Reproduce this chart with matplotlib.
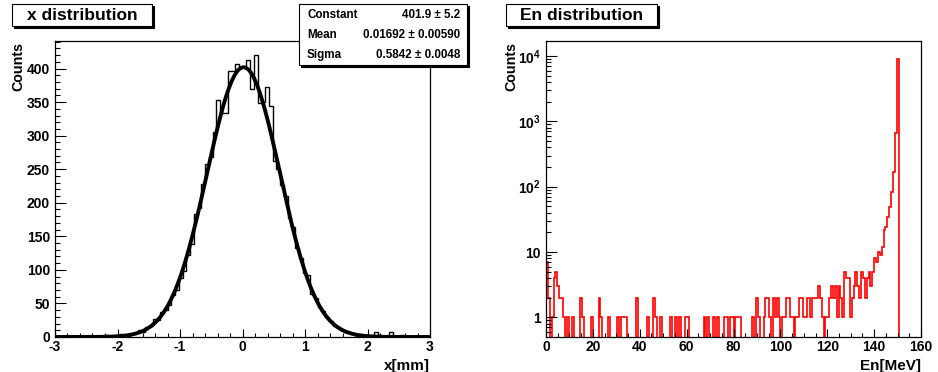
import numpy as np
import matplotlib
matplotlib.use("Agg")
import matplotlib.pyplot as plt
from matplotlib.patches import Rectangle
from matplotlib.ticker import MultipleLocator, FixedLocator, FixedFormatter, LogLocator, NullFormatter

plt.rcParams['font.family'] = ['Liberation Sans', 'DejaVu Sans']
plt.rcParams['font.weight'] = 'bold'
plt.rcParams['axes.unicode_minus'] = False
plt.rcParams['mathtext.fontset'] = 'custom'
plt.rcParams['mathtext.rm'] = 'Liberation Sans:bold'
plt.rcParams['mathtext.bf'] = 'Liberation Sans:bold'

# x distribution: 100 bins from -3 to 3 (counts)
x_lo, x_hi, x_nbins = -3.0, 3.0, 100
x_counts = [0, 0, 0, 0, 0, 1, 0, 1, 1, 0,
            0, 1, 2, 3, 1, 1, 2, 4, 3, 2,
            4, 6, 10, 8, 15, 17, 27, 25, 37, 40,
            48, 63, 70, 88, 98, 122, 138, 183, 192, 228,
            258, 268, 306, 353, 333, 333, 396, 396, 406, 402,
            403, 413, 370, 420, 348, 350, 372, 344, 262, 250,
            226, 210, 178, 164, 133, 118, 96, 92, 64, 58,
            45, 38, 30, 24, 17, 15, 10, 8, 7, 6,
            3, 2, 3, 1, 2, 7, 3, 1, 2, 8,
            2, 1, 3, 2, 1, 1, 2, 0, 1, 1]

# gaus fit results shown in the stats box
fit_const, fit_const_err = 401.9, 5.2
fit_mean, fit_mean_err = 0.01692, 0.00590
fit_sigma, fit_sigma_err = 0.5842, 0.0048

# En distribution: 200 bins of 0.8 MeV from 0 to 160, only non-empty bins listed
en_lo, en_hi, en_nbins = 0.0, 160.0, 200
en_bin = [0, 1, 3, 4, 5, 6, 7, 8, 9, 11, 14, 18, 19, 24, 28, 29, 33, 38, 40, 41,
          42, 48, 54, 57, 58, 61, 66, 69, 71, 74, 75, 84, 86, 89, 91, 95, 96, 98, 99, 101,
          102, 103, 110, 112, 113, 116, 117, 118, 119, 121, 122, 123, 124, 126, 127, 128, 129, 130, 131, 133,
          134, 135, 136, 137, 138, 139, 140, 141, 142, 143, 144, 145, 146, 147, 149, 150, 151, 152, 153, 154,
          155, 156, 157, 158, 159, 160, 161, 162, 163, 164, 165, 166, 167, 168, 169, 170, 171, 172, 173, 174,
          175, 176, 177, 178, 179, 180, 181, 182, 183, 184, 185, 186, 187]
en_count = [7, 2, 1, 4, 5, 3, 2, 2, 1, 1, 1, 2, 1, 1, 2, 1, 1, 1, 1, 1,
            1, 2, 1, 2, 1, 1, 1, 1, 1, 1, 1, 1, 1, 1, 1, 1, 1, 1, 1, 1,
            1, 1, 1, 2, 1, 1, 2, 2, 1, 2, 1, 2, 1, 1, 1, 2, 2, 1, 1, 1,
            1, 2, 2, 1, 1, 2, 2, 1, 2, 2, 2, 3, 2, 1, 1, 1, 2, 3, 2, 3,
            1, 3, 2, 1, 5, 4, 4, 1, 2, 3, 5, 3, 2, 5, 4, 2, 4, 5, 3, 5,
            8, 7, 10, 9, 12, 22, 24, 34, 49, 83, 168, 665, 8900]

W, H = 938, 372


def fig_rect(x0, y0, x1, y1):
    return (x0 / W, 1 - y1 / H, (x1 - x0) / W, (y1 - y0) / H)


def root_box(fig, x0, y0, x1, y1):
    # white pave with a small dark shadow, ROOT style
    l, b, w, h = fig_rect(x0 + 2, y0 + 2, x1 + 2, y1 + 2)
    fig.patches.append(Rectangle((l, b), w, h, transform=fig.transFigure,
                                 facecolor='black', edgecolor='black', lw=0.8, zorder=5))
    l, b, w, h = fig_rect(x0, y0, x1, y1)
    fig.patches.append(Rectangle((l, b), w, h, transform=fig.transFigure,
                                 facecolor='white', edgecolor='black', lw=0.8, zorder=6))


fig = plt.figure(figsize=(W / 100, H / 100), dpi=100)
ax1 = fig.add_axes(fig_rect(55, 41, 430, 337))
ax2 = fig.add_axes(fig_rect(546, 41, 921, 337))

# --- left: x distribution ---
x_edges = np.linspace(x_lo, x_hi, x_nbins + 1)
ax1.stairs(x_counts, x_edges, color='black', lw=1.0)
xs = np.linspace(x_lo, x_hi, 600)
ax1.plot(xs, fit_const * np.exp(-0.5 * ((xs - fit_mean) / fit_sigma) ** 2), color='black', lw=2.8)
ax1.set_xlim(x_lo, x_hi)
ax1.set_ylim(0, 441)
ax1.xaxis.set_major_locator(MultipleLocator(1))
ax1.xaxis.set_minor_locator(MultipleLocator(0.2))
ax1.yaxis.set_major_locator(MultipleLocator(50))
ax1.yaxis.set_minor_locator(MultipleLocator(10))

# --- right: En distribution ---
en_edges = np.linspace(en_lo, en_hi, en_nbins + 1)
en_full = np.zeros(en_nbins)
en_full[en_bin] = en_count
ax2.set_yscale('log')
ax2.stairs(en_full, en_edges, color='red', lw=1.2, baseline=None)
ax2.set_xlim(en_lo, en_hi)
ax2.set_ylim(0.5, 17000)
ax2.xaxis.set_major_locator(MultipleLocator(20))
ax2.xaxis.set_minor_locator(MultipleLocator(5))
ax2.yaxis.set_major_locator(FixedLocator([1, 10, 100, 1000, 10000]))
ax2.yaxis.set_major_formatter(FixedFormatter(['1', '10', r'$10^{2}$', r'$10^{3}$', r'$10^{4}$']))
ax2.yaxis.set_minor_locator(LogLocator(base=10, subs=np.arange(2, 10)))
ax2.yaxis.set_minor_formatter(NullFormatter())

for ax in (ax1, ax2):
    for s in ax.spines.values():
        s.set_linewidth(0.9)
    ax.tick_params(axis='both', which='both', direction='in', top=False, right=False,
                   labelsize=10, width=0.8)
    ax.tick_params(axis='x', which='major', length=5.7, pad=2.3)
    ax.tick_params(axis='x', which='minor', length=2.9)
    ax.tick_params(axis='y', which='major', length=8.0, pad=3.6)
    ax.tick_params(axis='y', which='minor', length=3.6)
    for lab in ax.get_xticklabels() + ax.get_yticklabels():
        lab.set_fontweight('bold')

# axis titles
ax1.text(1.0, -0.1098, 'x[mm]', transform=ax1.transAxes, ha='right', va='baseline',
         fontsize=11, fontweight='bold')
ax2.text(1.0, -0.1098, 'En[MeV]', transform=ax2.transAxes, ha='right', va='baseline',
         fontsize=11, fontweight='bold')
ax1.text(-0.086, 0.997, 'Counts', transform=ax1.transAxes, rotation=90, rotation_mode='anchor',
         ha='right', va='baseline', fontsize=10.3, fontweight='bold')
ax2.text(-0.081, 0.997, 'Counts', transform=ax2.transAxes, rotation=90, rotation_mode='anchor',
         ha='right', va='baseline', fontsize=10.3, fontweight='bold')

# title boxes
root_box(fig, 12, 4, 152, 26)
fig.text((12 + 152) / 2 / W, 1 - 15 / H, 'x distribution', ha='center', va='center',
         fontsize=12.5, fontweight='bold', zorder=7)
root_box(fig, 506, 4, 657, 26)
fig.text((506 + 657) / 2 / W, 1 - 15 / H, 'En distribution', ha='center', va='center',
         fontsize=12.5, fontweight='bold', zorder=7)

# stats box
root_box(fig, 299, 4, 467, 65)
stats_rows = [('Constant', f'{fit_const} ± {fit_const_err}'),
              ('Mean', f'{fit_mean} ± {fit_mean_err:.5f}'),
              ('Sigma', f'{fit_sigma} ± {fit_sigma_err}')]
for i, (name, val) in enumerate(stats_rows):
    yy = 1 - (15.5 + 19.8 * i) / H
    fig.text(307 / W, yy, name, ha='left', va='center', fontsize=8.4, fontweight='bold', zorder=7)
    fig.text(460 / W, yy, val, ha='right', va='center', fontsize=8.4, fontweight='bold', zorder=7)

fig.savefig('out.png', dpi=100)
